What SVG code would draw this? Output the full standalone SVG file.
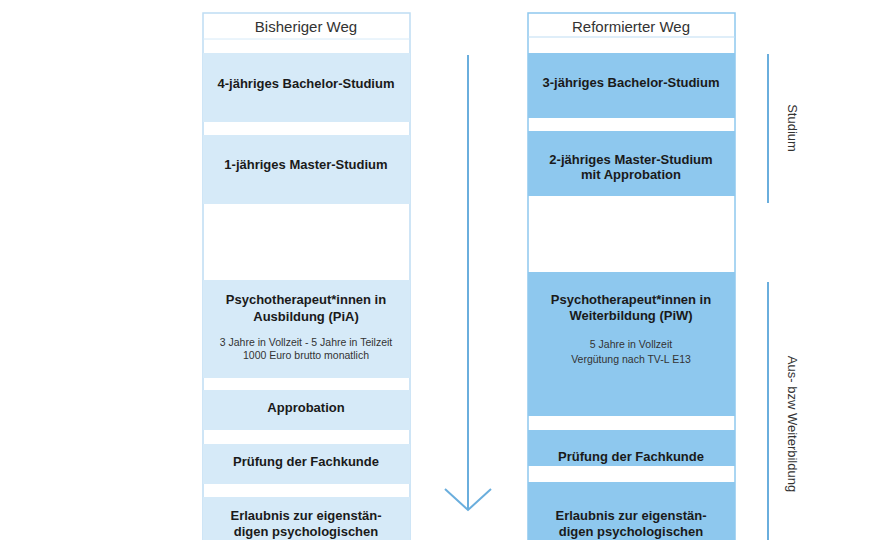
<svg xmlns="http://www.w3.org/2000/svg" width="880" height="540" viewBox="0 0 880 540">
<style>
text{font-family:"Liberation Sans",Arial,sans-serif;fill:#1a1a1a;text-anchor:middle}
.b{font-weight:bold;font-size:13px}
.s{font-size:10.5px;fill:#333}
.h{font-size:15px;fill:#333}
.l{fill:#D6EAF8}
.r{fill:#8EC8EE}
.ln{stroke:#6AAEDD;stroke-width:2;fill:none}
</style>
<rect width="880" height="540" fill="#fff"/>
<g id="col-left">
<rect x="203" y="13" width="207" height="540" fill="#fff" stroke="#BFDDF3" stroke-width="1.5"/>
<line x1="203" y1="39" x2="410" y2="39" stroke="#D6EAF8"/>
<text class="h" x="306" y="32">Bisheriger Weg</text>
</g>
<g id="l1"><rect class="l" x="203" y="53" width="207" height="69"/><text class="b" x="306" y="88">4-jähriges Bachelor-Studium</text></g>
<g id="l2"><rect class="l" x="203" y="135" width="207" height="69"/><text class="b" x="306" y="169">1-jähriges Master-Studium</text></g>
<g id="l3"><rect class="l" x="203" y="280" width="207" height="98"/><text class="b" x="306" y="304">Psychotherapeut*innen in</text><text class="b" x="306" y="321">Ausbildung (PiA)</text><text class="s" x="306" y="346">3 Jahre in Vollzeit - 5 Jahre in Teilzeit</text><text class="s" x="306" y="359">1000 Euro brutto monatlich</text></g>
<g id="l4"><rect class="l" x="203" y="390" width="207" height="40"/><text class="b" x="306" y="412">Approbation</text></g>
<g id="l5"><rect class="l" x="203" y="444" width="207" height="40"/><text class="b" x="306" y="466">Prüfung der Fachkunde</text></g>
<g id="l6"><rect class="l" x="203" y="497" width="207" height="50"/><text class="b" x="306" y="520">Erlaubnis zur eigenstän-</text><text class="b" x="306" y="536">digen psychologischen</text></g>
<g id="col-right">
<rect x="528" y="13" width="207" height="540" fill="#fff" stroke="#8EC8EE" stroke-width="1.5"/>
<line x1="528" y1="37" x2="735" y2="37" stroke="#BFDDF3"/>
<text class="h" x="631" y="32">Reformierter Weg</text>
</g>
<g id="r1"><rect class="r" x="528" y="53" width="207" height="65"/><text class="b" x="631" y="87">3-jähriges Bachelor-Studium</text></g>
<g id="r2"><rect class="r" x="528" y="131" width="207" height="65"/><text class="b" x="631" y="164">2-jähriges Master-Studium</text><text class="b" x="631" y="179">mit Approbation</text></g>
<g id="r3"><rect class="r" x="528" y="272" width="207" height="144"/><text class="b" x="631" y="304">Psychotherapeut*innen in</text><text class="b" x="631" y="320">Weiterbildung (PiW)</text><text class="s" x="631" y="348">5 Jahre in Vollzeit</text><text class="s" x="631" y="363">Vergütung nach TV-L E13</text></g>
<g id="r4"><rect class="r" x="528" y="430" width="207" height="36"/><text class="b" x="631" y="466" dy="-5">Prüfung der Fachkunde</text></g>
<g id="r5"><rect class="r" x="528" y="482" width="207" height="65"/><text class="b" x="631" y="520">Erlaubnis zur eigenstän-</text><text class="b" x="631" y="536">digen psychologischen</text></g>
<g id="connectors">
<line class="ln" x1="468" y1="55" x2="468" y2="509"/>
<polyline class="ln" points="445,489 468,510 491,489" stroke-width="2.5"/>
<line class="ln" x1="768" y1="54" x2="768" y2="203"/>
<line class="ln" x1="768" y1="282" x2="768" y2="540"/>
</g>
<g id="labels">
<text x="0" y="0" font-size="13" transform="translate(788,128) rotate(90)" style="fill:#333">Studium</text>
<text x="0" y="0" font-size="13" transform="translate(788,424) rotate(90)" style="fill:#333">Aus- bzw Weiterbildung</text>
</g>
</svg>
